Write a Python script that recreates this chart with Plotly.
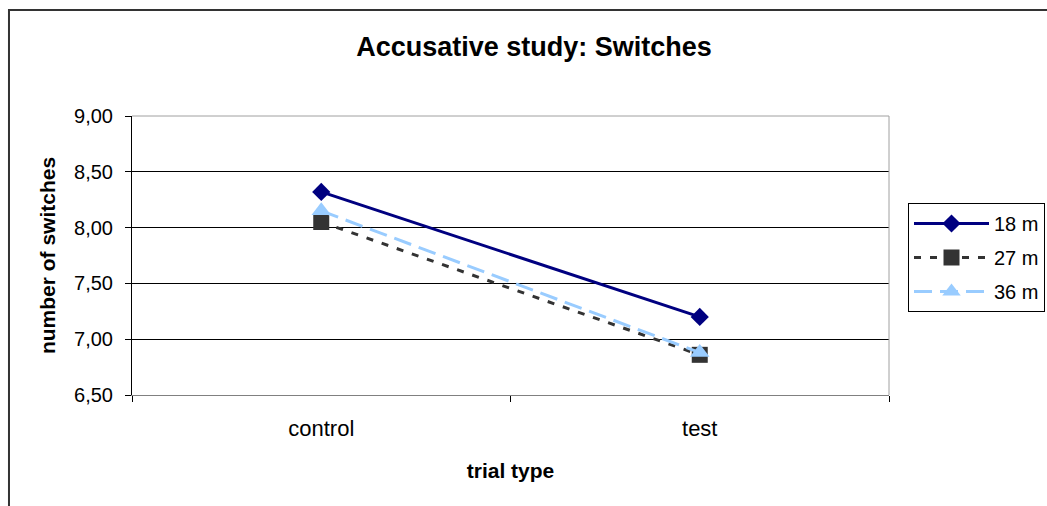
import plotly.graph_objects as go

# Trial types on the category axis
trial_types = ["control", "test"]

# Mean number of switches per age group
switches_18m = [8.32, 7.20]
switches_27m = [8.05, 6.86]
switches_36m = [8.15, 6.88]

# y-axis tick values
y_ticks = [6.5, 7.0, 7.5, 8.0, 8.5, 9.0]

FONT = "Liberation Sans, Arial, sans-serif"

fig = go.Figure()

fig.add_trace(go.Scatter(
    x=trial_types, y=switches_18m, name="18 m", mode="lines+markers",
    line=dict(color="#000080", width=3),
    marker=dict(symbol="diamond", size=14, color="#000080"),
    legendgroup="a",
))
fig.add_trace(go.Scatter(
    x=trial_types, y=switches_27m, name="27 m", mode="lines+markers",
    line=dict(color="#333333", width=3, dash="7px,9px"),
    marker=dict(symbol="square", size=16, color="#333333"),
    legendgroup="b",
))
fig.add_trace(go.Scatter(
    x=trial_types, y=switches_36m, name="36 m", mode="lines+markers",
    line=dict(color="#99CCFF", width=3, dash="18px,8px"),
    marker=dict(symbol="triangle-up", size=17, color="#99CCFF"),
    legendgroup="c",
))

fig.update_layout(
    width=1047, height=506,
    margin=dict(l=132, r=158, t=116, b=111),
    paper_bgcolor="white", plot_bgcolor="white",
    separators=",.",
    font=dict(family=FONT, size=20, color="black"),
    title=dict(
        text="<b>Accusative study: Switches</b>",
        x=534 / 1047, xanchor="center", xref="container",
        y=1 - 47 / 506, yanchor="middle", yref="container",
        font=dict(family=FONT, size=27, color="black"),
    ),
    xaxis=dict(
        type="category", range=[-0.5, 1.5],
        tickson="boundaries", ticks="outside", ticklen=6, tickcolor="black",
        showline=True, linecolor="#808080", linewidth=1,
        showgrid=False, zeroline=False,
        tickfont=dict(size=22),
        ticklabelstandoff=14,
        title=dict(text="<b>trial type</b>", font=dict(size=21), standoff=22),
    ),
    yaxis=dict(
        range=[6.5, 9.0], tickvals=y_ticks, tickformat=".2f",
        ticks="outside", ticklen=6, tickcolor="black",
        showline=True, linecolor="black", linewidth=1,
        showgrid=True, gridcolor="black", gridwidth=1,
        zeroline=False,
        tickfont=dict(size=20),
        ticklabelstandoff=8,
        title=dict(text="<b>number of switches</b>", font=dict(size=21), standoff=12),
    ),
    legend=dict(
        xref="container", x=908 / 1047, xanchor="left",
        yref="container", y=1 - 203 / 506, yanchor="top",
        bordercolor="black", borderwidth=1,
        font=dict(size=20), itemwidth=75, tracegroupgap=5,
        bgcolor="white",
    ),
    shapes=[
        # plot-area frame: top, right and bottom edges
        dict(type="path", xref="paper", yref="paper",
             path="M 0,1 L 1,1 L 1,0", line=dict(color="#a0a0a0", width=1),
             layer="above"),
        # outer chart frame
        dict(type="rect", xref="paper", yref="paper",
             x0=-0.1625, y0=-0.42, x1=1.22, y1=1.38,
             line=dict(color="#333333", width=2), layer="below"),
    ],
)

fig.write_html("out.html")
